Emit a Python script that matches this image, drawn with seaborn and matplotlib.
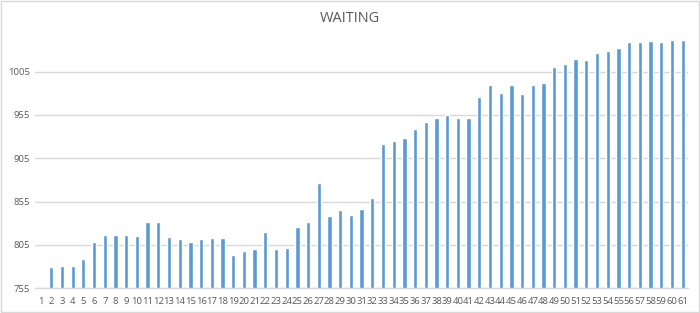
import matplotlib
matplotlib.use("Agg")
import matplotlib.pyplot as plt
import seaborn as sns
import pandas as pd
from matplotlib.patches import Rectangle

categories = [str(i) for i in range(1, 62)]
values = [750, 779, 781, 781, 789, 808, 816, 816, 816, 815,
          832, 831, 814, 812, 808, 812, 813, 813, 793, 798,
          800, 820, 800, 802, 826, 832, 876, 838, 845, 839,
          846, 859, 922, 925, 928, 939, 947, 952, 955, 952,
          952, 976, 989, 980, 990, 979, 989, 992, 1010, 1014,
          1020, 1018, 1027, 1029, 1032, 1039, 1039, 1040, 1039, 1042,
          1042]
yticks = [755, 805, 855, 905, 955, 1005]
title = "WAITING"

df = pd.DataFrame({"cat": categories, "val": values})

sns.set_theme(style="white")
plt.rcParams['font.family'] = ['Open Sans', 'DejaVu Sans']

fig = plt.figure(figsize=(7.0, 3.13), dpi=100)
ax = fig.add_axes([35.2 / 700, 1 - 288.3 / 313, (688 - 35.2) / 700, (288.3 - 32.6) / 313])

sns.barplot(data=df, x="cat", y="val", color="#5B9BD5", saturation=1, width=0.4, ax=ax)

ax.set_ylim(755, 1050)
ax.set_yticks(yticks)
ax.set_yticklabels([str(t) for t in yticks])
ax.yaxis.grid(True, color="#d9d9d9", linewidth=1)
ax.set_axisbelow(True)
for s in ["top", "right", "left"]:
    ax.spines[s].set_visible(False)
ax.spines["bottom"].set_color("#d9d9d9")
ax.spines["bottom"].set_linewidth(1)
ax.tick_params(axis="both", length=0, labelsize=6.8, colors="#595959", pad=4)
ax.tick_params(axis="x", pad=6)
ax.set_xlabel("")
ax.set_ylabel("")

fig.text(0.5, 1 - 18 / 313, title, ha="center", va="center", fontsize=10.5, color="#595959")
fig.patches.append(Rectangle((0.001, 0.002), 0.997, 0.995, transform=fig.transFigure,
                             fill=False, edgecolor="#d9d9d9", linewidth=1))

fig.savefig("out.png", dpi=100)
